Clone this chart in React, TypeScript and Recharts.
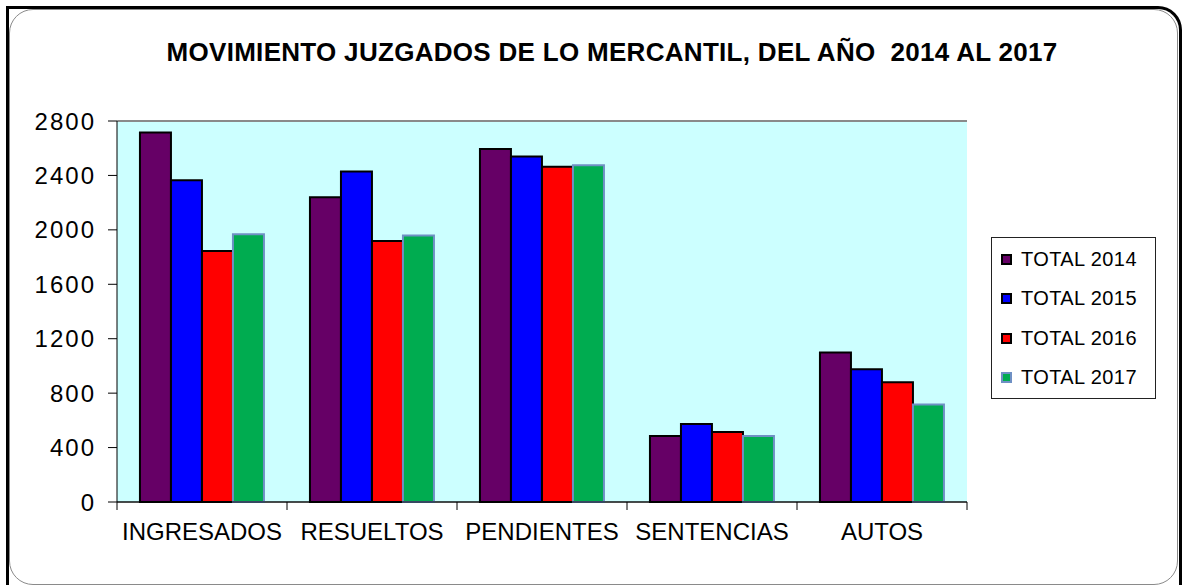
import React from 'react';
import { BarChart, Bar, XAxis, YAxis, CartesianGrid } from 'recharts';

const categories = ['INGRESADOS', 'RESUELTOS', 'PENDIENTES', 'SENTENCIAS', 'AUTOS'];
const total2014 = [2715, 2240, 2595, 485, 1098];
const total2015 = [2365, 2428, 2539, 574, 976];
const total2016 = [1845, 1919, 2463, 515, 880];
const total2017 = [1968, 1958, 2475, 485, 716];
const yTicks = [0, 400, 800, 1200, 1600, 2000, 2400, 2800];

const SERIES = [
  { key: 'TOTAL 2014', values: total2014, fill: '#660066', stroke: '#000000' },
  { key: 'TOTAL 2015', values: total2015, fill: '#0000FF', stroke: '#000000' },
  { key: 'TOTAL 2016', values: total2016, fill: '#FF0000', stroke: '#000000' },
  { key: 'TOTAL 2017', values: total2017, fill: '#00AC50', stroke: '#6F90C4' },
];

const FONT = '"Liberation Sans", Arial, sans-serif';
const PLOT_LEFT = 117;
const PLOT_RIGHT = 967;
const HALF_BAND = (PLOT_RIGHT - PLOT_LEFT) / categories.length / 2;

const data = categories.map((name, i) => {
  const row: Record<string, string | number> = { name };
  SERIES.forEach(s => { row[s.key] = s.values[i]; });
  return row;
});

// category label plus the boundary tick marks excel draws between groups
const CategoryTick = (props: any) => {
  const { x, y, payload, index } = props;
  const axisY = y - 8;
  return (
    <g>
      {index === 0 && (
        <line x1={x - HALF_BAND} x2={x - HALF_BAND} y1={axisY} y2={axisY + 8} stroke="#000" />
      )}
      <line x1={x + HALF_BAND} x2={x + HALF_BAND} y1={axisY} y2={axisY + 8} stroke="#000" />
      <text x={x} y={axisY + 38} textAnchor="middle" fontSize={24} fontFamily={FONT} fill="#000">
        {payload.value}
      </text>
    </g>
  );
};

const ValueTick = (props: any) => {
  const { x, y, payload } = props;
  return (
    <text x={x + 2} y={y} dy="0.36em" textAnchor="end" fontSize={24} fontFamily={FONT} fill="#000" letterSpacing={2}>
      {payload.value}
    </text>
  );
};

export default function App() {
  return (
    <div style={{ position: 'fixed', left: 0, top: 0, width: 1188, height: 585, overflow: 'hidden', background: '#fff' }}>
      {/* frame */}
      <div style={{
        position: 'absolute', left: 6, top: 6, width: 1170, height: 620,
        borderTop: '3px solid #000', borderLeft: '3px solid #000', borderRight: '3px solid #000',
        borderTopRightRadius: 24,
      }} />
      <div style={{
        position: 'absolute', left: 9, top: 9, width: 1167, height: 574,
        border: '1px solid #8a8a8a', borderRadius: 24,
      }} />

      <div style={{
        position: 'absolute', left: 0, top: 37, width: 1224, textAlign: 'center',
        fontFamily: FONT, fontWeight: 'bold', fontSize: 26, letterSpacing: 0.3, color: '#000', whiteSpace: 'pre',
      }}>
        {'MOVIMIENTO JUZGADOS DE LO MERCANTIL, DEL AÑO  2014 AL 2017'}
      </div>

      <div style={{ position: 'absolute', left: 0, top: 0 }}>
        <BarChart
          width={1188}
          height={585}
          data={data}
          margin={{ top: 121, right: 221, bottom: 0, left: 0 }}
          barCategoryGap="13.5%"
          barGap={0}
        >
          <CartesianGrid vertical={false} fill="#CCFFFF" stroke="#2a2a2a" strokeOpacity={1} />
          <XAxis
            dataKey="name"
            height={83}
            axisLine={{ stroke: '#000' }}
            tickLine={false}
            tick={<CategoryTick />}
            interval={0}
          />
          <YAxis
            yAxisId="left"
            width={117}
            domain={[0, 2800]}
            ticks={yTicks}
            interval={0}
            axisLine={{ stroke: '#000' }}
            tickLine={{ stroke: '#000' }}
            tickSize={9}
            tickMargin={14}
            tick={<ValueTick />}
          />
          <YAxis
            yAxisId="right"
            orientation="right"
            width={0}
            domain={[0, 2800]}
            tick={false}
            tickLine={false}
            axisLine={{ stroke: '#8a8a8a' }}
          />
          {SERIES.map(s => (
            <Bar
              key={s.key}
              yAxisId="left"
              dataKey={s.key}
              fill={s.fill}
              stroke={s.stroke}
              strokeWidth={2}
              isAnimationActive={false}
            />
          ))}
        </BarChart>
      </div>

      {/* plot top border is grey in the original */}
      <div style={{ position: 'absolute', left: PLOT_LEFT + 1, top: 120, width: PLOT_RIGHT - PLOT_LEFT - 1, height: 2, background: '#8a8a8a' }} />

      {/* legend */}
      <div style={{
        position: 'absolute', left: 991, top: 237, width: 163, height: 160,
        border: '1px solid #222', background: '#fff', fontFamily: FONT,
      }}>
        {SERIES.map((s, i) => (
          <div key={s.key} style={{
            position: 'absolute', left: 9, top: 9 + i * 39.5, height: 24,
            display: 'flex', alignItems: 'center',
          }}>
            <div style={{ width: 7, height: 7, background: s.fill, border: `2px solid ${s.stroke}` }} />
            <span style={{ marginLeft: 9, fontSize: 20, letterSpacing: 0.4, color: '#000', whiteSpace: 'pre' }}>{s.key}</span>
          </div>
        ))}
      </div>
    </div>
  );
}
